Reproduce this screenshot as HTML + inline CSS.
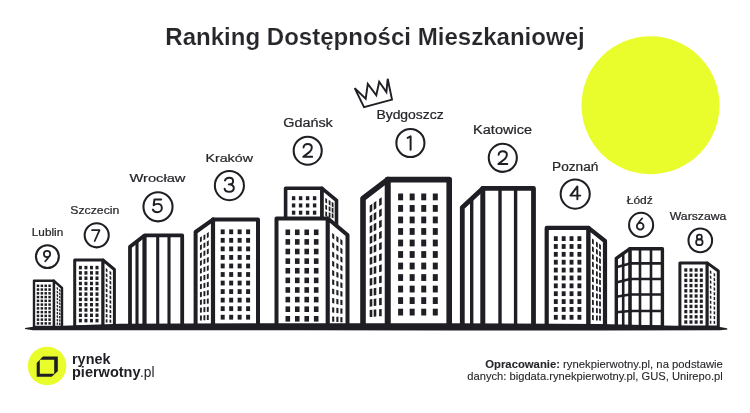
<!DOCTYPE html>
<html><head><meta charset="utf-8"><style>
html,body{margin:0;padding:0;background:#fff;width:750px;height:413px;overflow:hidden}
svg{display:block;will-change:transform;font-family:"Liberation Sans",sans-serif}
</style></head><body>
<svg width="750" height="413" viewBox="0 0 750 413">
<circle cx="650.5" cy="105.2" r="69" fill="#eafd2c"/>
<polygon points="34.00,280.80 54.00,280.80 54.00,327.00 34.00,327.00" fill="#fff" stroke="#1e1e24" stroke-width="2.4" stroke-linejoin="round"/>
<polygon points="54.00,280.80 62.00,288.00 62.00,327.00 54.00,327.00" fill="#fff" stroke="#1e1e24" stroke-width="2.4" stroke-linejoin="round"/>
<rect x="36.75" y="284.55" width="2.50" height="2.50" fill="#1e1e24"/>
<rect x="40.62" y="284.55" width="2.50" height="2.50" fill="#1e1e24"/>
<rect x="44.48" y="284.55" width="2.50" height="2.50" fill="#1e1e24"/>
<rect x="48.35" y="284.55" width="2.50" height="2.50" fill="#1e1e24"/>
<rect x="36.75" y="288.31" width="2.50" height="2.50" fill="#1e1e24"/>
<rect x="40.62" y="288.31" width="2.50" height="2.50" fill="#1e1e24"/>
<rect x="44.48" y="288.31" width="2.50" height="2.50" fill="#1e1e24"/>
<rect x="48.35" y="288.31" width="2.50" height="2.50" fill="#1e1e24"/>
<rect x="36.75" y="292.07" width="2.50" height="2.50" fill="#1e1e24"/>
<rect x="40.62" y="292.07" width="2.50" height="2.50" fill="#1e1e24"/>
<rect x="44.48" y="292.07" width="2.50" height="2.50" fill="#1e1e24"/>
<rect x="48.35" y="292.07" width="2.50" height="2.50" fill="#1e1e24"/>
<rect x="36.75" y="295.83" width="2.50" height="2.50" fill="#1e1e24"/>
<rect x="40.62" y="295.83" width="2.50" height="2.50" fill="#1e1e24"/>
<rect x="44.48" y="295.83" width="2.50" height="2.50" fill="#1e1e24"/>
<rect x="48.35" y="295.83" width="2.50" height="2.50" fill="#1e1e24"/>
<rect x="36.75" y="299.59" width="2.50" height="2.50" fill="#1e1e24"/>
<rect x="40.62" y="299.59" width="2.50" height="2.50" fill="#1e1e24"/>
<rect x="44.48" y="299.59" width="2.50" height="2.50" fill="#1e1e24"/>
<rect x="48.35" y="299.59" width="2.50" height="2.50" fill="#1e1e24"/>
<rect x="36.75" y="303.35" width="2.50" height="2.50" fill="#1e1e24"/>
<rect x="40.62" y="303.35" width="2.50" height="2.50" fill="#1e1e24"/>
<rect x="44.48" y="303.35" width="2.50" height="2.50" fill="#1e1e24"/>
<rect x="48.35" y="303.35" width="2.50" height="2.50" fill="#1e1e24"/>
<rect x="36.75" y="307.11" width="2.50" height="2.50" fill="#1e1e24"/>
<rect x="40.62" y="307.11" width="2.50" height="2.50" fill="#1e1e24"/>
<rect x="44.48" y="307.11" width="2.50" height="2.50" fill="#1e1e24"/>
<rect x="48.35" y="307.11" width="2.50" height="2.50" fill="#1e1e24"/>
<rect x="36.75" y="310.87" width="2.50" height="2.50" fill="#1e1e24"/>
<rect x="40.62" y="310.87" width="2.50" height="2.50" fill="#1e1e24"/>
<rect x="44.48" y="310.87" width="2.50" height="2.50" fill="#1e1e24"/>
<rect x="48.35" y="310.87" width="2.50" height="2.50" fill="#1e1e24"/>
<rect x="36.75" y="314.63" width="2.50" height="2.50" fill="#1e1e24"/>
<rect x="40.62" y="314.63" width="2.50" height="2.50" fill="#1e1e24"/>
<rect x="44.48" y="314.63" width="2.50" height="2.50" fill="#1e1e24"/>
<rect x="48.35" y="314.63" width="2.50" height="2.50" fill="#1e1e24"/>
<rect x="36.75" y="318.39" width="2.50" height="2.50" fill="#1e1e24"/>
<rect x="40.62" y="318.39" width="2.50" height="2.50" fill="#1e1e24"/>
<rect x="44.48" y="318.39" width="2.50" height="2.50" fill="#1e1e24"/>
<rect x="48.35" y="318.39" width="2.50" height="2.50" fill="#1e1e24"/>
<rect x="36.75" y="322.15" width="2.50" height="2.50" fill="#1e1e24"/>
<rect x="40.62" y="322.15" width="2.50" height="2.50" fill="#1e1e24"/>
<rect x="44.48" y="322.15" width="2.50" height="2.50" fill="#1e1e24"/>
<rect x="48.35" y="322.15" width="2.50" height="2.50" fill="#1e1e24"/>
<polygon points="56.70,286.82 58.10,287.94 58.10,290.24 56.70,289.12" fill="#1e1e24"/>
<polygon points="59.10,288.74 60.50,289.87 60.50,292.17 59.10,291.04" fill="#1e1e24"/>
<polygon points="56.70,290.38 58.10,291.40 58.10,293.70 56.70,292.68" fill="#1e1e24"/>
<polygon points="59.10,292.13 60.50,293.15 60.50,295.45 59.10,294.43" fill="#1e1e24"/>
<polygon points="56.70,293.94 58.10,294.86 58.10,297.16 56.70,296.24" fill="#1e1e24"/>
<polygon points="59.10,295.52 60.50,296.43 60.50,298.73 59.10,297.82" fill="#1e1e24"/>
<polygon points="56.70,297.50 58.10,298.32 58.10,300.62 56.70,299.80" fill="#1e1e24"/>
<polygon points="59.10,298.90 60.50,299.72 60.50,302.02 59.10,301.20" fill="#1e1e24"/>
<polygon points="56.70,301.07 58.10,301.78 58.10,304.08 56.70,303.37" fill="#1e1e24"/>
<polygon points="59.10,302.29 60.50,303.00 60.50,305.30 59.10,304.59" fill="#1e1e24"/>
<polygon points="56.70,304.63 58.10,305.24 58.10,307.54 56.70,306.93" fill="#1e1e24"/>
<polygon points="59.10,305.68 60.50,306.29 60.50,308.59 59.10,307.98" fill="#1e1e24"/>
<polygon points="56.70,308.19 58.10,308.70 58.10,311.00 56.70,310.49" fill="#1e1e24"/>
<polygon points="59.10,309.06 60.50,309.57 60.50,311.87 59.10,311.36" fill="#1e1e24"/>
<polygon points="56.70,311.75 58.10,312.16 58.10,314.46 56.70,314.05" fill="#1e1e24"/>
<polygon points="59.10,312.45 60.50,312.85 60.50,315.15 59.10,314.75" fill="#1e1e24"/>
<polygon points="56.70,315.31 58.10,315.62 58.10,317.92 56.70,317.61" fill="#1e1e24"/>
<polygon points="59.10,315.83 60.50,316.14 60.50,318.44 59.10,318.13" fill="#1e1e24"/>
<polygon points="56.70,318.88 58.10,319.08 58.10,321.38 56.70,321.18" fill="#1e1e24"/>
<polygon points="59.10,319.22 60.50,319.42 60.50,321.72 59.10,321.52" fill="#1e1e24"/>
<polygon points="56.70,322.44 58.10,322.54 58.10,324.84 56.70,324.74" fill="#1e1e24"/>
<polygon points="59.10,322.61 60.50,322.71 60.50,325.01 59.10,324.91" fill="#1e1e24"/>
<polygon points="74.70,260.00 103.00,260.00 103.00,327.00 74.70,327.00" fill="#fff" stroke="#1e1e24" stroke-width="3.0" stroke-linejoin="round"/>
<polygon points="103.00,260.00 114.40,269.50 114.40,327.00 103.00,327.00" fill="#fff" stroke="#1e1e24" stroke-width="3.0" stroke-linejoin="round"/>
<rect x="78.90" y="265.85" width="3.00" height="3.50" fill="#1e1e24"/>
<rect x="84.43" y="265.85" width="3.00" height="3.50" fill="#1e1e24"/>
<rect x="89.97" y="265.85" width="3.00" height="3.50" fill="#1e1e24"/>
<rect x="95.50" y="265.85" width="3.00" height="3.50" fill="#1e1e24"/>
<rect x="78.90" y="271.15" width="3.00" height="3.50" fill="#1e1e24"/>
<rect x="84.43" y="271.15" width="3.00" height="3.50" fill="#1e1e24"/>
<rect x="89.97" y="271.15" width="3.00" height="3.50" fill="#1e1e24"/>
<rect x="95.50" y="271.15" width="3.00" height="3.50" fill="#1e1e24"/>
<rect x="78.90" y="276.45" width="3.00" height="3.50" fill="#1e1e24"/>
<rect x="84.43" y="276.45" width="3.00" height="3.50" fill="#1e1e24"/>
<rect x="89.97" y="276.45" width="3.00" height="3.50" fill="#1e1e24"/>
<rect x="95.50" y="276.45" width="3.00" height="3.50" fill="#1e1e24"/>
<rect x="78.90" y="281.75" width="3.00" height="3.50" fill="#1e1e24"/>
<rect x="84.43" y="281.75" width="3.00" height="3.50" fill="#1e1e24"/>
<rect x="89.97" y="281.75" width="3.00" height="3.50" fill="#1e1e24"/>
<rect x="95.50" y="281.75" width="3.00" height="3.50" fill="#1e1e24"/>
<rect x="78.90" y="287.05" width="3.00" height="3.50" fill="#1e1e24"/>
<rect x="84.43" y="287.05" width="3.00" height="3.50" fill="#1e1e24"/>
<rect x="89.97" y="287.05" width="3.00" height="3.50" fill="#1e1e24"/>
<rect x="95.50" y="287.05" width="3.00" height="3.50" fill="#1e1e24"/>
<rect x="78.90" y="292.35" width="3.00" height="3.50" fill="#1e1e24"/>
<rect x="84.43" y="292.35" width="3.00" height="3.50" fill="#1e1e24"/>
<rect x="89.97" y="292.35" width="3.00" height="3.50" fill="#1e1e24"/>
<rect x="95.50" y="292.35" width="3.00" height="3.50" fill="#1e1e24"/>
<rect x="78.90" y="297.65" width="3.00" height="3.50" fill="#1e1e24"/>
<rect x="84.43" y="297.65" width="3.00" height="3.50" fill="#1e1e24"/>
<rect x="89.97" y="297.65" width="3.00" height="3.50" fill="#1e1e24"/>
<rect x="95.50" y="297.65" width="3.00" height="3.50" fill="#1e1e24"/>
<rect x="78.90" y="302.95" width="3.00" height="3.50" fill="#1e1e24"/>
<rect x="84.43" y="302.95" width="3.00" height="3.50" fill="#1e1e24"/>
<rect x="89.97" y="302.95" width="3.00" height="3.50" fill="#1e1e24"/>
<rect x="95.50" y="302.95" width="3.00" height="3.50" fill="#1e1e24"/>
<rect x="78.90" y="308.25" width="3.00" height="3.50" fill="#1e1e24"/>
<rect x="84.43" y="308.25" width="3.00" height="3.50" fill="#1e1e24"/>
<rect x="89.97" y="308.25" width="3.00" height="3.50" fill="#1e1e24"/>
<rect x="95.50" y="308.25" width="3.00" height="3.50" fill="#1e1e24"/>
<rect x="78.90" y="313.55" width="3.00" height="3.50" fill="#1e1e24"/>
<rect x="84.43" y="313.55" width="3.00" height="3.50" fill="#1e1e24"/>
<rect x="89.97" y="313.55" width="3.00" height="3.50" fill="#1e1e24"/>
<rect x="95.50" y="313.55" width="3.00" height="3.50" fill="#1e1e24"/>
<rect x="78.90" y="318.85" width="3.00" height="3.50" fill="#1e1e24"/>
<rect x="84.43" y="318.85" width="3.00" height="3.50" fill="#1e1e24"/>
<rect x="89.97" y="318.85" width="3.00" height="3.50" fill="#1e1e24"/>
<rect x="95.50" y="318.85" width="3.00" height="3.50" fill="#1e1e24"/>
<polygon points="105.75,268.03 107.45,269.29 107.45,272.49 105.75,271.23" fill="#1e1e24"/>
<polygon points="109.55,270.84 111.25,272.10 111.25,275.30 109.55,274.04" fill="#1e1e24"/>
<polygon points="105.75,273.15 107.45,274.29 107.45,277.49 105.75,276.35" fill="#1e1e24"/>
<polygon points="109.55,275.71 111.25,276.85 111.25,280.05 109.55,278.91" fill="#1e1e24"/>
<polygon points="105.75,278.27 107.45,279.30 107.45,282.50 105.75,281.47" fill="#1e1e24"/>
<polygon points="109.55,280.58 111.25,281.61 111.25,284.81 109.55,283.78" fill="#1e1e24"/>
<polygon points="105.75,283.39 107.45,284.31 107.45,287.51 105.75,286.59" fill="#1e1e24"/>
<polygon points="109.55,285.44 111.25,286.36 111.25,289.56 109.55,288.64" fill="#1e1e24"/>
<polygon points="105.75,288.51 107.45,289.31 107.45,292.51 105.75,291.71" fill="#1e1e24"/>
<polygon points="109.55,290.31 111.25,291.12 111.25,294.32 109.55,293.51" fill="#1e1e24"/>
<polygon points="105.75,293.63 107.45,294.32 107.45,297.52 105.75,296.83" fill="#1e1e24"/>
<polygon points="109.55,295.18 111.25,295.88 111.25,299.08 109.55,298.38" fill="#1e1e24"/>
<polygon points="105.75,298.74 107.45,299.33 107.45,302.53 105.75,301.94" fill="#1e1e24"/>
<polygon points="109.55,300.05 111.25,300.63 111.25,303.83 109.55,303.25" fill="#1e1e24"/>
<polygon points="105.75,303.86 107.45,304.33 107.45,307.53 105.75,307.06" fill="#1e1e24"/>
<polygon points="109.55,304.92 111.25,305.39 111.25,308.59 109.55,308.12" fill="#1e1e24"/>
<polygon points="105.75,308.98 107.45,309.34 107.45,312.54 105.75,312.18" fill="#1e1e24"/>
<polygon points="109.55,309.78 111.25,310.14 111.25,313.34 109.55,312.98" fill="#1e1e24"/>
<polygon points="105.75,314.10 107.45,314.35 107.45,317.55 105.75,317.30" fill="#1e1e24"/>
<polygon points="109.55,314.65 111.25,314.90 111.25,318.10 109.55,317.85" fill="#1e1e24"/>
<polygon points="105.75,319.22 107.45,319.35 107.45,322.55 105.75,322.42" fill="#1e1e24"/>
<polygon points="109.55,319.52 111.25,319.66 111.25,322.86 109.55,322.72" fill="#1e1e24"/>
<polygon points="130.00,246.80 144.50,235.40 182.20,235.40 182.20,327.00 130.00,327.00" fill="#fff" stroke="#1e1e24" stroke-width="3.8" stroke-linejoin="round"/>
<line x1="144.50" y1="236.00" x2="144.50" y2="327.00" stroke="#1e1e24" stroke-width="4.2" stroke-linecap="round"/>
<line x1="137.00" y1="241.50" x2="137.00" y2="327.00" stroke="#1e1e24" stroke-width="3.1" stroke-linecap="round"/>
<line x1="157.70" y1="236.00" x2="157.70" y2="327.00" stroke="#1e1e24" stroke-width="3.1" stroke-linecap="round"/>
<line x1="169.00" y1="236.00" x2="169.00" y2="327.00" stroke="#1e1e24" stroke-width="3.1" stroke-linecap="round"/>
<polygon points="195.60,232.00 213.00,219.60 213.00,327.00 195.60,327.00" fill="#fff" stroke="#1e1e24" stroke-width="4.0" stroke-linejoin="round"/>
<polygon points="213.00,219.60 258.00,219.60 258.00,327.00 213.00,327.00" fill="#fff" stroke="#1e1e24" stroke-width="4.0" stroke-linejoin="round"/>
<line x1="213.00" y1="219.60" x2="213.00" y2="327.00" stroke="#1e1e24" stroke-width="4.2" stroke-linecap="round"/>
<rect x="220.70" y="229.40" width="4.00" height="4.80" fill="#1e1e24"/>
<rect x="229.17" y="229.40" width="4.00" height="4.80" fill="#1e1e24"/>
<rect x="237.63" y="229.40" width="4.00" height="4.80" fill="#1e1e24"/>
<rect x="246.10" y="229.40" width="4.00" height="4.80" fill="#1e1e24"/>
<rect x="220.70" y="237.94" width="4.00" height="4.80" fill="#1e1e24"/>
<rect x="229.17" y="237.94" width="4.00" height="4.80" fill="#1e1e24"/>
<rect x="237.63" y="237.94" width="4.00" height="4.80" fill="#1e1e24"/>
<rect x="246.10" y="237.94" width="4.00" height="4.80" fill="#1e1e24"/>
<rect x="220.70" y="246.48" width="4.00" height="4.80" fill="#1e1e24"/>
<rect x="229.17" y="246.48" width="4.00" height="4.80" fill="#1e1e24"/>
<rect x="237.63" y="246.48" width="4.00" height="4.80" fill="#1e1e24"/>
<rect x="246.10" y="246.48" width="4.00" height="4.80" fill="#1e1e24"/>
<rect x="220.70" y="255.02" width="4.00" height="4.80" fill="#1e1e24"/>
<rect x="229.17" y="255.02" width="4.00" height="4.80" fill="#1e1e24"/>
<rect x="237.63" y="255.02" width="4.00" height="4.80" fill="#1e1e24"/>
<rect x="246.10" y="255.02" width="4.00" height="4.80" fill="#1e1e24"/>
<rect x="220.70" y="263.56" width="4.00" height="4.80" fill="#1e1e24"/>
<rect x="229.17" y="263.56" width="4.00" height="4.80" fill="#1e1e24"/>
<rect x="237.63" y="263.56" width="4.00" height="4.80" fill="#1e1e24"/>
<rect x="246.10" y="263.56" width="4.00" height="4.80" fill="#1e1e24"/>
<rect x="220.70" y="272.10" width="4.00" height="4.80" fill="#1e1e24"/>
<rect x="229.17" y="272.10" width="4.00" height="4.80" fill="#1e1e24"/>
<rect x="237.63" y="272.10" width="4.00" height="4.80" fill="#1e1e24"/>
<rect x="246.10" y="272.10" width="4.00" height="4.80" fill="#1e1e24"/>
<rect x="220.70" y="280.64" width="4.00" height="4.80" fill="#1e1e24"/>
<rect x="229.17" y="280.64" width="4.00" height="4.80" fill="#1e1e24"/>
<rect x="237.63" y="280.64" width="4.00" height="4.80" fill="#1e1e24"/>
<rect x="246.10" y="280.64" width="4.00" height="4.80" fill="#1e1e24"/>
<rect x="220.70" y="289.18" width="4.00" height="4.80" fill="#1e1e24"/>
<rect x="229.17" y="289.18" width="4.00" height="4.80" fill="#1e1e24"/>
<rect x="237.63" y="289.18" width="4.00" height="4.80" fill="#1e1e24"/>
<rect x="246.10" y="289.18" width="4.00" height="4.80" fill="#1e1e24"/>
<rect x="220.70" y="297.72" width="4.00" height="4.80" fill="#1e1e24"/>
<rect x="229.17" y="297.72" width="4.00" height="4.80" fill="#1e1e24"/>
<rect x="237.63" y="297.72" width="4.00" height="4.80" fill="#1e1e24"/>
<rect x="246.10" y="297.72" width="4.00" height="4.80" fill="#1e1e24"/>
<rect x="220.70" y="306.26" width="4.00" height="4.80" fill="#1e1e24"/>
<rect x="229.17" y="306.26" width="4.00" height="4.80" fill="#1e1e24"/>
<rect x="237.63" y="306.26" width="4.00" height="4.80" fill="#1e1e24"/>
<rect x="246.10" y="306.26" width="4.00" height="4.80" fill="#1e1e24"/>
<rect x="220.70" y="314.80" width="4.00" height="4.80" fill="#1e1e24"/>
<rect x="229.17" y="314.80" width="4.00" height="4.80" fill="#1e1e24"/>
<rect x="237.63" y="314.80" width="4.00" height="4.80" fill="#1e1e24"/>
<rect x="246.10" y="314.80" width="4.00" height="4.80" fill="#1e1e24"/>
<polygon points="199.95,237.54 201.85,236.34 201.85,241.34 199.95,242.54" fill="#1e1e24"/>
<polygon points="203.45,235.33 205.35,234.13 205.35,239.13 203.45,240.33" fill="#1e1e24"/>
<polygon points="206.85,233.18 208.75,231.98 208.75,236.98 206.85,238.18" fill="#1e1e24"/>
<polygon points="199.95,245.34 201.85,244.25 201.85,249.25 199.95,250.34" fill="#1e1e24"/>
<polygon points="203.45,243.33 205.35,242.24 205.35,247.24 203.45,248.33" fill="#1e1e24"/>
<polygon points="206.85,241.38 208.75,240.28 208.75,245.28 206.85,246.38" fill="#1e1e24"/>
<polygon points="199.95,253.14 201.85,252.16 201.85,257.16 199.95,258.14" fill="#1e1e24"/>
<polygon points="203.45,251.33 205.35,250.35 205.35,255.35 203.45,256.33" fill="#1e1e24"/>
<polygon points="206.85,249.57 208.75,248.58 208.75,253.58 206.85,254.57" fill="#1e1e24"/>
<polygon points="199.95,260.95 201.85,260.07 201.85,265.07 199.95,265.95" fill="#1e1e24"/>
<polygon points="203.45,259.33 205.35,258.45 205.35,263.45 203.45,264.33" fill="#1e1e24"/>
<polygon points="206.85,257.76 208.75,256.88 208.75,261.88 206.85,262.76" fill="#1e1e24"/>
<polygon points="199.95,268.75 201.85,267.98 201.85,272.98 199.95,273.75" fill="#1e1e24"/>
<polygon points="203.45,267.33 205.35,266.56 205.35,271.56 203.45,272.33" fill="#1e1e24"/>
<polygon points="206.85,265.95 208.75,265.18 208.75,270.18 206.85,270.95" fill="#1e1e24"/>
<polygon points="199.95,276.55 201.85,275.88 201.85,280.88 199.95,281.55" fill="#1e1e24"/>
<polygon points="203.45,275.33 205.35,274.66 205.35,279.66 203.45,280.33" fill="#1e1e24"/>
<polygon points="206.85,274.14 208.75,273.48 208.75,278.48 206.85,279.14" fill="#1e1e24"/>
<polygon points="199.95,284.35 201.85,283.79 201.85,288.79 199.95,289.35" fill="#1e1e24"/>
<polygon points="203.45,283.33 205.35,282.77 205.35,287.77 203.45,288.33" fill="#1e1e24"/>
<polygon points="206.85,282.33 208.75,281.78 208.75,286.78 206.85,287.33" fill="#1e1e24"/>
<polygon points="199.95,292.15 201.85,291.70 201.85,296.70 199.95,297.15" fill="#1e1e24"/>
<polygon points="203.45,291.32 205.35,290.88 205.35,295.88 203.45,296.32" fill="#1e1e24"/>
<polygon points="206.85,290.53 208.75,290.08 208.75,295.08 206.85,295.53" fill="#1e1e24"/>
<polygon points="199.95,299.95 201.85,299.61 201.85,304.61 199.95,304.95" fill="#1e1e24"/>
<polygon points="203.45,299.32 205.35,298.98 205.35,303.98 203.45,304.32" fill="#1e1e24"/>
<polygon points="206.85,298.72 208.75,298.38 208.75,303.38 206.85,303.72" fill="#1e1e24"/>
<polygon points="199.95,307.75 201.85,307.52 201.85,312.52 199.95,312.75" fill="#1e1e24"/>
<polygon points="203.45,307.32 205.35,307.09 205.35,312.09 203.45,312.32" fill="#1e1e24"/>
<polygon points="206.85,306.91 208.75,306.68 208.75,311.68 206.85,311.91" fill="#1e1e24"/>
<polygon points="199.95,315.55 201.85,315.43 201.85,320.43 199.95,320.55" fill="#1e1e24"/>
<polygon points="203.45,315.32 205.35,315.20 205.35,320.20 203.45,320.32" fill="#1e1e24"/>
<polygon points="206.85,315.10 208.75,314.98 208.75,319.98 206.85,320.10" fill="#1e1e24"/>
<polygon points="285.60,188.30 322.00,188.30 322.00,226.00 285.60,226.00" fill="#fff" stroke="#1e1e24" stroke-width="3.6" stroke-linejoin="round"/>
<polygon points="322.00,188.30 336.50,200.30 336.50,226.00 322.00,226.00" fill="#fff" stroke="#1e1e24" stroke-width="3.6" stroke-linejoin="round"/>
<rect x="291.90" y="196.20" width="3.40" height="4.00" fill="#1e1e24"/>
<rect x="298.90" y="196.20" width="3.40" height="4.00" fill="#1e1e24"/>
<rect x="305.90" y="196.20" width="3.40" height="4.00" fill="#1e1e24"/>
<rect x="312.90" y="196.20" width="3.40" height="4.00" fill="#1e1e24"/>
<rect x="291.90" y="203.45" width="3.40" height="4.00" fill="#1e1e24"/>
<rect x="298.90" y="203.45" width="3.40" height="4.00" fill="#1e1e24"/>
<rect x="305.90" y="203.45" width="3.40" height="4.00" fill="#1e1e24"/>
<rect x="312.90" y="203.45" width="3.40" height="4.00" fill="#1e1e24"/>
<rect x="291.90" y="210.70" width="3.40" height="4.00" fill="#1e1e24"/>
<rect x="298.90" y="210.70" width="3.40" height="4.00" fill="#1e1e24"/>
<rect x="305.90" y="210.70" width="3.40" height="4.00" fill="#1e1e24"/>
<rect x="312.90" y="210.70" width="3.40" height="4.00" fill="#1e1e24"/>
<polygon points="325.30,197.91 327.10,199.01 327.10,203.61 325.30,202.51" fill="#1e1e24"/>
<polygon points="328.70,199.99 330.50,201.09 330.50,205.69 328.70,204.59" fill="#1e1e24"/>
<polygon points="331.70,201.82 333.50,202.92 333.50,207.52 331.70,206.42" fill="#1e1e24"/>
<polygon points="325.30,204.64 327.10,205.45 327.10,210.05 325.30,209.24" fill="#1e1e24"/>
<polygon points="328.70,206.17 330.50,206.98 330.50,211.58 328.70,210.77" fill="#1e1e24"/>
<polygon points="331.70,207.53 333.50,208.34 333.50,212.94 331.70,212.13" fill="#1e1e24"/>
<polygon points="325.30,211.36 327.10,211.89 327.10,216.49 325.30,215.96" fill="#1e1e24"/>
<polygon points="328.70,212.36 330.50,212.88 330.50,217.48 328.70,216.96" fill="#1e1e24"/>
<polygon points="331.70,213.23 333.50,213.76 333.50,218.36 331.70,217.83" fill="#1e1e24"/>
<polygon points="276.50,218.50 327.80,218.50 327.80,327.00 276.50,327.00" fill="#fff" stroke="#1e1e24" stroke-width="4.0" stroke-linejoin="round"/>
<polygon points="327.80,218.50 347.50,235.00 347.50,327.00 327.80,327.00" fill="#fff" stroke="#1e1e24" stroke-width="4.0" stroke-linejoin="round"/>
<rect x="285.50" y="229.50" width="4.60" height="5.60" fill="#1e1e24"/>
<rect x="294.97" y="229.50" width="4.60" height="5.60" fill="#1e1e24"/>
<rect x="304.43" y="229.50" width="4.60" height="5.60" fill="#1e1e24"/>
<rect x="313.90" y="229.50" width="4.60" height="5.60" fill="#1e1e24"/>
<rect x="285.50" y="239.11" width="4.60" height="5.60" fill="#1e1e24"/>
<rect x="294.97" y="239.11" width="4.60" height="5.60" fill="#1e1e24"/>
<rect x="304.43" y="239.11" width="4.60" height="5.60" fill="#1e1e24"/>
<rect x="313.90" y="239.11" width="4.60" height="5.60" fill="#1e1e24"/>
<rect x="285.50" y="248.72" width="4.60" height="5.60" fill="#1e1e24"/>
<rect x="294.97" y="248.72" width="4.60" height="5.60" fill="#1e1e24"/>
<rect x="304.43" y="248.72" width="4.60" height="5.60" fill="#1e1e24"/>
<rect x="313.90" y="248.72" width="4.60" height="5.60" fill="#1e1e24"/>
<rect x="285.50" y="258.33" width="4.60" height="5.60" fill="#1e1e24"/>
<rect x="294.97" y="258.33" width="4.60" height="5.60" fill="#1e1e24"/>
<rect x="304.43" y="258.33" width="4.60" height="5.60" fill="#1e1e24"/>
<rect x="313.90" y="258.33" width="4.60" height="5.60" fill="#1e1e24"/>
<rect x="285.50" y="267.94" width="4.60" height="5.60" fill="#1e1e24"/>
<rect x="294.97" y="267.94" width="4.60" height="5.60" fill="#1e1e24"/>
<rect x="304.43" y="267.94" width="4.60" height="5.60" fill="#1e1e24"/>
<rect x="313.90" y="267.94" width="4.60" height="5.60" fill="#1e1e24"/>
<rect x="285.50" y="277.56" width="4.60" height="5.60" fill="#1e1e24"/>
<rect x="294.97" y="277.56" width="4.60" height="5.60" fill="#1e1e24"/>
<rect x="304.43" y="277.56" width="4.60" height="5.60" fill="#1e1e24"/>
<rect x="313.90" y="277.56" width="4.60" height="5.60" fill="#1e1e24"/>
<rect x="285.50" y="287.17" width="4.60" height="5.60" fill="#1e1e24"/>
<rect x="294.97" y="287.17" width="4.60" height="5.60" fill="#1e1e24"/>
<rect x="304.43" y="287.17" width="4.60" height="5.60" fill="#1e1e24"/>
<rect x="313.90" y="287.17" width="4.60" height="5.60" fill="#1e1e24"/>
<rect x="285.50" y="296.78" width="4.60" height="5.60" fill="#1e1e24"/>
<rect x="294.97" y="296.78" width="4.60" height="5.60" fill="#1e1e24"/>
<rect x="304.43" y="296.78" width="4.60" height="5.60" fill="#1e1e24"/>
<rect x="313.90" y="296.78" width="4.60" height="5.60" fill="#1e1e24"/>
<rect x="285.50" y="306.39" width="4.60" height="5.60" fill="#1e1e24"/>
<rect x="294.97" y="306.39" width="4.60" height="5.60" fill="#1e1e24"/>
<rect x="304.43" y="306.39" width="4.60" height="5.60" fill="#1e1e24"/>
<rect x="313.90" y="306.39" width="4.60" height="5.60" fill="#1e1e24"/>
<rect x="285.50" y="316.00" width="4.60" height="5.60" fill="#1e1e24"/>
<rect x="294.97" y="316.00" width="4.60" height="5.60" fill="#1e1e24"/>
<rect x="304.43" y="316.00" width="4.60" height="5.60" fill="#1e1e24"/>
<rect x="313.90" y="316.00" width="4.60" height="5.60" fill="#1e1e24"/>
<polygon points="332.15,232.88 334.25,234.42 334.25,239.62 332.15,238.08" fill="#1e1e24"/>
<polygon points="336.35,235.95 338.45,237.49 338.45,242.69 336.35,241.15" fill="#1e1e24"/>
<polygon points="340.35,238.87 342.45,240.41 342.45,245.61 340.35,244.07" fill="#1e1e24"/>
<polygon points="332.15,242.17 334.25,243.55 334.25,248.75 332.15,247.37" fill="#1e1e24"/>
<polygon points="336.35,244.93 338.45,246.31 338.45,251.51 336.35,250.13" fill="#1e1e24"/>
<polygon points="340.35,247.55 342.45,248.93 342.45,254.13 340.35,252.75" fill="#1e1e24"/>
<polygon points="332.15,251.46 334.25,252.68 334.25,257.88 332.15,256.66" fill="#1e1e24"/>
<polygon points="336.35,253.90 338.45,255.13 338.45,260.33 336.35,259.10" fill="#1e1e24"/>
<polygon points="340.35,256.23 342.45,257.46 342.45,262.66 340.35,261.43" fill="#1e1e24"/>
<polygon points="332.15,260.75 334.25,261.81 334.25,267.01 332.15,265.95" fill="#1e1e24"/>
<polygon points="336.35,262.88 338.45,263.95 338.45,269.15 336.35,268.08" fill="#1e1e24"/>
<polygon points="340.35,264.91 342.45,265.98 342.45,271.18 340.35,270.11" fill="#1e1e24"/>
<polygon points="332.15,270.03 334.25,270.95 334.25,276.15 332.15,275.23" fill="#1e1e24"/>
<polygon points="336.35,271.86 338.45,272.77 338.45,277.97 336.35,277.06" fill="#1e1e24"/>
<polygon points="340.35,273.59 342.45,274.51 342.45,279.71 340.35,278.79" fill="#1e1e24"/>
<polygon points="332.15,279.32 334.25,280.08 334.25,285.28 332.15,284.52" fill="#1e1e24"/>
<polygon points="336.35,280.83 338.45,281.59 338.45,286.79 336.35,286.03" fill="#1e1e24"/>
<polygon points="340.35,282.27 342.45,283.03 342.45,288.23 340.35,287.47" fill="#1e1e24"/>
<polygon points="332.15,288.61 334.25,289.21 334.25,294.41 332.15,293.81" fill="#1e1e24"/>
<polygon points="336.35,289.81 338.45,290.41 338.45,295.61 336.35,295.01" fill="#1e1e24"/>
<polygon points="340.35,290.95 342.45,291.55 342.45,296.75 340.35,296.15" fill="#1e1e24"/>
<polygon points="332.15,297.90 334.25,298.34 334.25,303.54 332.15,303.10" fill="#1e1e24"/>
<polygon points="336.35,298.79 338.45,299.23 338.45,304.43 336.35,303.99" fill="#1e1e24"/>
<polygon points="340.35,299.63 342.45,300.08 342.45,305.28 340.35,304.83" fill="#1e1e24"/>
<polygon points="332.15,307.19 334.25,307.48 334.25,312.68 332.15,312.39" fill="#1e1e24"/>
<polygon points="336.35,307.76 338.45,308.05 338.45,313.25 336.35,312.96" fill="#1e1e24"/>
<polygon points="340.35,308.31 342.45,308.60 342.45,313.80 340.35,313.51" fill="#1e1e24"/>
<polygon points="332.15,316.48 334.25,316.61 334.25,321.81 332.15,321.68" fill="#1e1e24"/>
<polygon points="336.35,316.74 338.45,316.87 338.45,322.07 336.35,321.94" fill="#1e1e24"/>
<polygon points="340.35,316.99 342.45,317.13 342.45,322.33 340.35,322.19" fill="#1e1e24"/>
<polygon points="363.00,198.50 387.70,179.60 387.70,327.00 363.00,327.00" fill="#fff" stroke="#1e1e24" stroke-width="5.6" stroke-linejoin="round"/>
<polygon points="387.70,179.60 449.20,179.60 449.20,327.00 387.70,327.00" fill="#fff" stroke="#1e1e24" stroke-width="5.6" stroke-linejoin="round"/>
<line x1="387.70" y1="179.60" x2="387.70" y2="327.00" stroke="#1e1e24" stroke-width="5.6" stroke-linecap="round"/>
<rect x="398.10" y="193.50" width="5.00" height="6.80" fill="#1e1e24"/>
<rect x="409.67" y="193.50" width="5.00" height="6.80" fill="#1e1e24"/>
<rect x="421.23" y="193.50" width="5.00" height="6.80" fill="#1e1e24"/>
<rect x="432.80" y="193.50" width="5.00" height="6.80" fill="#1e1e24"/>
<rect x="398.10" y="205.02" width="5.00" height="6.80" fill="#1e1e24"/>
<rect x="409.67" y="205.02" width="5.00" height="6.80" fill="#1e1e24"/>
<rect x="421.23" y="205.02" width="5.00" height="6.80" fill="#1e1e24"/>
<rect x="432.80" y="205.02" width="5.00" height="6.80" fill="#1e1e24"/>
<rect x="398.10" y="216.54" width="5.00" height="6.80" fill="#1e1e24"/>
<rect x="409.67" y="216.54" width="5.00" height="6.80" fill="#1e1e24"/>
<rect x="421.23" y="216.54" width="5.00" height="6.80" fill="#1e1e24"/>
<rect x="432.80" y="216.54" width="5.00" height="6.80" fill="#1e1e24"/>
<rect x="398.10" y="228.06" width="5.00" height="6.80" fill="#1e1e24"/>
<rect x="409.67" y="228.06" width="5.00" height="6.80" fill="#1e1e24"/>
<rect x="421.23" y="228.06" width="5.00" height="6.80" fill="#1e1e24"/>
<rect x="432.80" y="228.06" width="5.00" height="6.80" fill="#1e1e24"/>
<rect x="398.10" y="239.58" width="5.00" height="6.80" fill="#1e1e24"/>
<rect x="409.67" y="239.58" width="5.00" height="6.80" fill="#1e1e24"/>
<rect x="421.23" y="239.58" width="5.00" height="6.80" fill="#1e1e24"/>
<rect x="432.80" y="239.58" width="5.00" height="6.80" fill="#1e1e24"/>
<rect x="398.10" y="251.10" width="5.00" height="6.80" fill="#1e1e24"/>
<rect x="409.67" y="251.10" width="5.00" height="6.80" fill="#1e1e24"/>
<rect x="421.23" y="251.10" width="5.00" height="6.80" fill="#1e1e24"/>
<rect x="432.80" y="251.10" width="5.00" height="6.80" fill="#1e1e24"/>
<rect x="398.10" y="262.62" width="5.00" height="6.80" fill="#1e1e24"/>
<rect x="409.67" y="262.62" width="5.00" height="6.80" fill="#1e1e24"/>
<rect x="421.23" y="262.62" width="5.00" height="6.80" fill="#1e1e24"/>
<rect x="432.80" y="262.62" width="5.00" height="6.80" fill="#1e1e24"/>
<rect x="398.10" y="274.14" width="5.00" height="6.80" fill="#1e1e24"/>
<rect x="409.67" y="274.14" width="5.00" height="6.80" fill="#1e1e24"/>
<rect x="421.23" y="274.14" width="5.00" height="6.80" fill="#1e1e24"/>
<rect x="432.80" y="274.14" width="5.00" height="6.80" fill="#1e1e24"/>
<rect x="398.10" y="285.66" width="5.00" height="6.80" fill="#1e1e24"/>
<rect x="409.67" y="285.66" width="5.00" height="6.80" fill="#1e1e24"/>
<rect x="421.23" y="285.66" width="5.00" height="6.80" fill="#1e1e24"/>
<rect x="432.80" y="285.66" width="5.00" height="6.80" fill="#1e1e24"/>
<rect x="398.10" y="297.18" width="5.00" height="6.80" fill="#1e1e24"/>
<rect x="409.67" y="297.18" width="5.00" height="6.80" fill="#1e1e24"/>
<rect x="421.23" y="297.18" width="5.00" height="6.80" fill="#1e1e24"/>
<rect x="432.80" y="297.18" width="5.00" height="6.80" fill="#1e1e24"/>
<rect x="398.10" y="308.70" width="5.00" height="6.80" fill="#1e1e24"/>
<rect x="409.67" y="308.70" width="5.00" height="6.80" fill="#1e1e24"/>
<rect x="421.23" y="308.70" width="5.00" height="6.80" fill="#1e1e24"/>
<rect x="432.80" y="308.70" width="5.00" height="6.80" fill="#1e1e24"/>
<polygon points="369.70,205.46 372.30,203.70 372.30,210.90 369.70,212.66" fill="#1e1e24"/>
<polygon points="373.70,202.76 376.30,201.00 376.30,208.20 373.70,209.96" fill="#1e1e24"/>
<polygon points="379.10,199.11 381.70,197.35 381.70,204.55 379.10,206.31" fill="#1e1e24"/>
<polygon points="369.70,215.90 372.30,214.30 372.30,221.50 369.70,223.10" fill="#1e1e24"/>
<polygon points="373.70,213.44 376.30,211.84 376.30,219.04 373.70,220.64" fill="#1e1e24"/>
<polygon points="379.10,210.11 381.70,208.51 381.70,215.71 379.10,217.31" fill="#1e1e24"/>
<polygon points="369.70,226.34 372.30,224.90 372.30,232.10 369.70,233.54" fill="#1e1e24"/>
<polygon points="373.70,224.12 376.30,222.68 376.30,229.88 373.70,231.32" fill="#1e1e24"/>
<polygon points="379.10,221.12 381.70,219.67 381.70,226.87 379.10,228.32" fill="#1e1e24"/>
<polygon points="369.70,236.79 372.30,235.50 372.30,242.70 369.70,243.99" fill="#1e1e24"/>
<polygon points="373.70,234.80 376.30,233.51 376.30,240.71 373.70,242.00" fill="#1e1e24"/>
<polygon points="379.10,232.13 381.70,230.84 381.70,238.04 379.10,239.33" fill="#1e1e24"/>
<polygon points="369.70,247.23 372.30,246.10 372.30,253.30 369.70,254.43" fill="#1e1e24"/>
<polygon points="373.70,245.49 376.30,244.35 376.30,251.55 373.70,252.69" fill="#1e1e24"/>
<polygon points="379.10,243.13 381.70,242.00 381.70,249.20 379.10,250.33" fill="#1e1e24"/>
<polygon points="369.70,257.67 372.30,256.70 372.30,263.90 369.70,264.87" fill="#1e1e24"/>
<polygon points="373.70,256.17 376.30,255.19 376.30,262.39 373.70,263.37" fill="#1e1e24"/>
<polygon points="379.10,254.14 381.70,253.16 381.70,260.36 379.10,261.34" fill="#1e1e24"/>
<polygon points="369.70,268.12 372.30,267.30 372.30,274.50 369.70,275.32" fill="#1e1e24"/>
<polygon points="373.70,266.85 376.30,266.03 376.30,273.23 373.70,274.05" fill="#1e1e24"/>
<polygon points="379.10,265.14 381.70,264.32 381.70,271.52 379.10,272.34" fill="#1e1e24"/>
<polygon points="369.70,278.56 372.30,277.89 372.30,285.09 369.70,285.76" fill="#1e1e24"/>
<polygon points="373.70,277.53 376.30,276.87 376.30,284.07 373.70,284.73" fill="#1e1e24"/>
<polygon points="379.10,276.15 381.70,275.48 381.70,282.68 379.10,283.35" fill="#1e1e24"/>
<polygon points="369.70,289.01 372.30,288.49 372.30,295.69 369.70,296.21" fill="#1e1e24"/>
<polygon points="373.70,288.22 376.30,287.71 376.30,294.91 373.70,295.42" fill="#1e1e24"/>
<polygon points="379.10,287.15 381.70,286.64 381.70,293.84 379.10,294.35" fill="#1e1e24"/>
<polygon points="369.70,299.45 372.30,299.09 372.30,306.29 369.70,306.65" fill="#1e1e24"/>
<polygon points="373.70,298.90 376.30,298.54 376.30,305.74 373.70,306.10" fill="#1e1e24"/>
<polygon points="379.10,298.16 381.70,297.80 381.70,305.00 379.10,305.36" fill="#1e1e24"/>
<polygon points="369.70,309.89 372.30,309.69 372.30,316.89 369.70,317.09" fill="#1e1e24"/>
<polygon points="373.70,309.58 376.30,309.38 376.30,316.58 373.70,316.78" fill="#1e1e24"/>
<polygon points="379.10,309.17 381.70,308.96 381.70,316.16 379.10,316.37" fill="#1e1e24"/>
<polygon points="462.30,207.50 482.80,188.40 533.50,188.40 533.50,327.00 462.30,327.00" fill="#fff" stroke="#1e1e24" stroke-width="4.8" stroke-linejoin="round"/>
<line x1="482.80" y1="188.40" x2="482.80" y2="327.00" stroke="#1e1e24" stroke-width="5.0" stroke-linecap="round"/>
<line x1="471.70" y1="200.00" x2="471.70" y2="327.00" stroke="#1e1e24" stroke-width="3.4" stroke-linecap="round"/>
<line x1="500.00" y1="188.40" x2="500.00" y2="327.00" stroke="#1e1e24" stroke-width="3.4" stroke-linecap="round"/>
<line x1="515.60" y1="188.40" x2="515.60" y2="327.00" stroke="#1e1e24" stroke-width="3.4" stroke-linecap="round"/>
<polygon points="546.70,227.90 588.50,227.90 588.50,327.00 546.70,327.00" fill="#fff" stroke="#1e1e24" stroke-width="4.2" stroke-linejoin="round"/>
<polygon points="588.50,227.90 605.00,241.00 605.00,327.00 588.50,327.00" fill="#fff" stroke="#1e1e24" stroke-width="4.2" stroke-linejoin="round"/>
<rect x="553.85" y="236.20" width="3.90" height="4.80" fill="#1e1e24"/>
<rect x="561.72" y="236.20" width="3.90" height="4.80" fill="#1e1e24"/>
<rect x="569.58" y="236.20" width="3.90" height="4.80" fill="#1e1e24"/>
<rect x="577.45" y="236.20" width="3.90" height="4.80" fill="#1e1e24"/>
<rect x="553.85" y="244.07" width="3.90" height="4.80" fill="#1e1e24"/>
<rect x="561.72" y="244.07" width="3.90" height="4.80" fill="#1e1e24"/>
<rect x="569.58" y="244.07" width="3.90" height="4.80" fill="#1e1e24"/>
<rect x="577.45" y="244.07" width="3.90" height="4.80" fill="#1e1e24"/>
<rect x="553.85" y="251.94" width="3.90" height="4.80" fill="#1e1e24"/>
<rect x="561.72" y="251.94" width="3.90" height="4.80" fill="#1e1e24"/>
<rect x="569.58" y="251.94" width="3.90" height="4.80" fill="#1e1e24"/>
<rect x="577.45" y="251.94" width="3.90" height="4.80" fill="#1e1e24"/>
<rect x="553.85" y="259.81" width="3.90" height="4.80" fill="#1e1e24"/>
<rect x="561.72" y="259.81" width="3.90" height="4.80" fill="#1e1e24"/>
<rect x="569.58" y="259.81" width="3.90" height="4.80" fill="#1e1e24"/>
<rect x="577.45" y="259.81" width="3.90" height="4.80" fill="#1e1e24"/>
<rect x="553.85" y="267.68" width="3.90" height="4.80" fill="#1e1e24"/>
<rect x="561.72" y="267.68" width="3.90" height="4.80" fill="#1e1e24"/>
<rect x="569.58" y="267.68" width="3.90" height="4.80" fill="#1e1e24"/>
<rect x="577.45" y="267.68" width="3.90" height="4.80" fill="#1e1e24"/>
<rect x="553.85" y="275.55" width="3.90" height="4.80" fill="#1e1e24"/>
<rect x="561.72" y="275.55" width="3.90" height="4.80" fill="#1e1e24"/>
<rect x="569.58" y="275.55" width="3.90" height="4.80" fill="#1e1e24"/>
<rect x="577.45" y="275.55" width="3.90" height="4.80" fill="#1e1e24"/>
<rect x="553.85" y="283.42" width="3.90" height="4.80" fill="#1e1e24"/>
<rect x="561.72" y="283.42" width="3.90" height="4.80" fill="#1e1e24"/>
<rect x="569.58" y="283.42" width="3.90" height="4.80" fill="#1e1e24"/>
<rect x="577.45" y="283.42" width="3.90" height="4.80" fill="#1e1e24"/>
<rect x="553.85" y="291.29" width="3.90" height="4.80" fill="#1e1e24"/>
<rect x="561.72" y="291.29" width="3.90" height="4.80" fill="#1e1e24"/>
<rect x="569.58" y="291.29" width="3.90" height="4.80" fill="#1e1e24"/>
<rect x="577.45" y="291.29" width="3.90" height="4.80" fill="#1e1e24"/>
<rect x="553.85" y="299.16" width="3.90" height="4.80" fill="#1e1e24"/>
<rect x="561.72" y="299.16" width="3.90" height="4.80" fill="#1e1e24"/>
<rect x="569.58" y="299.16" width="3.90" height="4.80" fill="#1e1e24"/>
<rect x="577.45" y="299.16" width="3.90" height="4.80" fill="#1e1e24"/>
<rect x="553.85" y="307.03" width="3.90" height="4.80" fill="#1e1e24"/>
<rect x="561.72" y="307.03" width="3.90" height="4.80" fill="#1e1e24"/>
<rect x="569.58" y="307.03" width="3.90" height="4.80" fill="#1e1e24"/>
<rect x="577.45" y="307.03" width="3.90" height="4.80" fill="#1e1e24"/>
<rect x="553.85" y="314.90" width="3.90" height="4.80" fill="#1e1e24"/>
<rect x="561.72" y="314.90" width="3.90" height="4.80" fill="#1e1e24"/>
<rect x="569.58" y="314.90" width="3.90" height="4.80" fill="#1e1e24"/>
<rect x="577.45" y="314.90" width="3.90" height="4.80" fill="#1e1e24"/>
<polygon points="592.00,238.58 593.80,239.85 593.80,244.85 592.00,243.58" fill="#1e1e24"/>
<polygon points="596.00,241.41 597.80,242.69 597.80,247.69 596.00,246.41" fill="#1e1e24"/>
<polygon points="599.10,243.61 600.90,244.88 600.90,249.88 599.10,248.61" fill="#1e1e24"/>
<polygon points="592.00,246.23 593.80,247.39 593.80,252.39 592.00,251.23" fill="#1e1e24"/>
<polygon points="596.00,248.81 597.80,249.97 597.80,254.97 596.00,253.81" fill="#1e1e24"/>
<polygon points="599.10,250.81 600.90,251.97 600.90,256.97 599.10,255.81" fill="#1e1e24"/>
<polygon points="592.00,253.88 593.80,254.93 593.80,259.93 592.00,258.88" fill="#1e1e24"/>
<polygon points="596.00,256.21 597.80,257.25 597.80,262.25 596.00,261.21" fill="#1e1e24"/>
<polygon points="599.10,258.01 600.90,259.06 600.90,264.06 599.10,263.01" fill="#1e1e24"/>
<polygon points="592.00,261.53 593.80,262.46 593.80,267.46 592.00,266.53" fill="#1e1e24"/>
<polygon points="596.00,263.60 597.80,264.54 597.80,269.54 596.00,268.60" fill="#1e1e24"/>
<polygon points="599.10,265.21 600.90,266.15 600.90,271.15 599.10,270.21" fill="#1e1e24"/>
<polygon points="592.00,269.18 593.80,270.00 593.80,275.00 592.00,274.18" fill="#1e1e24"/>
<polygon points="596.00,271.00 597.80,271.82 597.80,276.82 596.00,276.00" fill="#1e1e24"/>
<polygon points="599.10,272.41 600.90,273.23 600.90,278.23 599.10,277.41" fill="#1e1e24"/>
<polygon points="592.00,276.83 593.80,277.53 593.80,282.53 592.00,281.83" fill="#1e1e24"/>
<polygon points="596.00,278.40 597.80,279.10 597.80,284.10 596.00,283.40" fill="#1e1e24"/>
<polygon points="599.10,279.62 600.90,280.32 600.90,285.32 599.10,284.62" fill="#1e1e24"/>
<polygon points="592.00,284.47 593.80,285.07 593.80,290.07 592.00,289.47" fill="#1e1e24"/>
<polygon points="596.00,285.79 597.80,286.39 597.80,291.39 596.00,290.79" fill="#1e1e24"/>
<polygon points="599.10,286.82 600.90,287.41 600.90,292.41 599.10,291.82" fill="#1e1e24"/>
<polygon points="592.00,292.12 593.80,292.60 593.80,297.60 592.00,297.12" fill="#1e1e24"/>
<polygon points="596.00,293.19 597.80,293.67 597.80,298.67 596.00,298.19" fill="#1e1e24"/>
<polygon points="599.10,294.02 600.90,294.50 600.90,299.50 599.10,299.02" fill="#1e1e24"/>
<polygon points="592.00,299.77 593.80,300.14 593.80,305.14 592.00,304.77" fill="#1e1e24"/>
<polygon points="596.00,300.59 597.80,300.96 597.80,305.96 596.00,305.59" fill="#1e1e24"/>
<polygon points="599.10,301.22 600.90,301.59 600.90,306.59 599.10,306.22" fill="#1e1e24"/>
<polygon points="592.00,307.42 593.80,307.68 593.80,312.68 592.00,312.42" fill="#1e1e24"/>
<polygon points="596.00,307.99 597.80,308.24 597.80,313.24 596.00,312.99" fill="#1e1e24"/>
<polygon points="599.10,308.42 600.90,308.68 600.90,313.68 599.10,313.42" fill="#1e1e24"/>
<polygon points="592.00,315.07 593.80,315.21 593.80,320.21 592.00,320.07" fill="#1e1e24"/>
<polygon points="596.00,315.38 597.80,315.52 597.80,320.52 596.00,320.38" fill="#1e1e24"/>
<polygon points="599.10,315.62 600.90,315.76 600.90,320.76 599.10,320.62" fill="#1e1e24"/>
<polygon points="616.30,258.30 630.00,248.70 662.40,248.70 662.40,327.00 616.30,327.00" fill="#fff" stroke="#1e1e24" stroke-width="3.4" stroke-linejoin="round"/>
<line x1="630.00" y1="248.70" x2="630.00" y2="327.00" stroke="#1e1e24" stroke-width="3.6" stroke-linecap="round"/>
<line x1="623.20" y1="253.50" x2="623.20" y2="327.00" stroke="#1e1e24" stroke-width="2.6" stroke-linecap="round"/>
<line x1="640.00" y1="248.70" x2="640.00" y2="327.00" stroke="#1e1e24" stroke-width="2.6" stroke-linecap="round"/>
<line x1="651.00" y1="248.70" x2="651.00" y2="327.00" stroke="#1e1e24" stroke-width="2.6" stroke-linecap="round"/>
<line x1="630.00" y1="263.40" x2="662.40" y2="263.40" stroke="#1e1e24" stroke-width="2.6" stroke-linecap="round"/>
<line x1="616.30" y1="267.20" x2="630.00" y2="263.40" stroke="#1e1e24" stroke-width="2.6" stroke-linecap="round"/>
<line x1="630.00" y1="279.00" x2="662.40" y2="279.00" stroke="#1e1e24" stroke-width="2.6" stroke-linecap="round"/>
<line x1="616.30" y1="282.50" x2="630.00" y2="279.00" stroke="#1e1e24" stroke-width="2.6" stroke-linecap="round"/>
<line x1="630.00" y1="294.50" x2="662.40" y2="294.50" stroke="#1e1e24" stroke-width="2.6" stroke-linecap="round"/>
<line x1="616.30" y1="296.80" x2="630.00" y2="294.50" stroke="#1e1e24" stroke-width="2.6" stroke-linecap="round"/>
<line x1="630.00" y1="311.00" x2="662.40" y2="311.00" stroke="#1e1e24" stroke-width="2.6" stroke-linecap="round"/>
<line x1="616.30" y1="312.30" x2="630.00" y2="311.00" stroke="#1e1e24" stroke-width="2.6" stroke-linecap="round"/>
<polygon points="679.90,262.90 707.20,262.90 707.20,327.00 679.90,327.00" fill="#fff" stroke="#1e1e24" stroke-width="3.0" stroke-linejoin="round"/>
<polygon points="707.20,262.90 718.30,271.00 718.30,327.00 707.20,327.00" fill="#fff" stroke="#1e1e24" stroke-width="3.0" stroke-linejoin="round"/>
<rect x="684.30" y="268.30" width="3.00" height="3.40" fill="#1e1e24"/>
<rect x="689.47" y="268.30" width="3.00" height="3.40" fill="#1e1e24"/>
<rect x="694.63" y="268.30" width="3.00" height="3.40" fill="#1e1e24"/>
<rect x="699.80" y="268.30" width="3.00" height="3.40" fill="#1e1e24"/>
<rect x="684.30" y="273.50" width="3.00" height="3.40" fill="#1e1e24"/>
<rect x="689.47" y="273.50" width="3.00" height="3.40" fill="#1e1e24"/>
<rect x="694.63" y="273.50" width="3.00" height="3.40" fill="#1e1e24"/>
<rect x="699.80" y="273.50" width="3.00" height="3.40" fill="#1e1e24"/>
<rect x="684.30" y="278.70" width="3.00" height="3.40" fill="#1e1e24"/>
<rect x="689.47" y="278.70" width="3.00" height="3.40" fill="#1e1e24"/>
<rect x="694.63" y="278.70" width="3.00" height="3.40" fill="#1e1e24"/>
<rect x="699.80" y="278.70" width="3.00" height="3.40" fill="#1e1e24"/>
<rect x="684.30" y="283.90" width="3.00" height="3.40" fill="#1e1e24"/>
<rect x="689.47" y="283.90" width="3.00" height="3.40" fill="#1e1e24"/>
<rect x="694.63" y="283.90" width="3.00" height="3.40" fill="#1e1e24"/>
<rect x="699.80" y="283.90" width="3.00" height="3.40" fill="#1e1e24"/>
<rect x="684.30" y="289.10" width="3.00" height="3.40" fill="#1e1e24"/>
<rect x="689.47" y="289.10" width="3.00" height="3.40" fill="#1e1e24"/>
<rect x="694.63" y="289.10" width="3.00" height="3.40" fill="#1e1e24"/>
<rect x="699.80" y="289.10" width="3.00" height="3.40" fill="#1e1e24"/>
<rect x="684.30" y="294.30" width="3.00" height="3.40" fill="#1e1e24"/>
<rect x="689.47" y="294.30" width="3.00" height="3.40" fill="#1e1e24"/>
<rect x="694.63" y="294.30" width="3.00" height="3.40" fill="#1e1e24"/>
<rect x="699.80" y="294.30" width="3.00" height="3.40" fill="#1e1e24"/>
<rect x="684.30" y="299.50" width="3.00" height="3.40" fill="#1e1e24"/>
<rect x="689.47" y="299.50" width="3.00" height="3.40" fill="#1e1e24"/>
<rect x="694.63" y="299.50" width="3.00" height="3.40" fill="#1e1e24"/>
<rect x="699.80" y="299.50" width="3.00" height="3.40" fill="#1e1e24"/>
<rect x="684.30" y="304.70" width="3.00" height="3.40" fill="#1e1e24"/>
<rect x="689.47" y="304.70" width="3.00" height="3.40" fill="#1e1e24"/>
<rect x="694.63" y="304.70" width="3.00" height="3.40" fill="#1e1e24"/>
<rect x="699.80" y="304.70" width="3.00" height="3.40" fill="#1e1e24"/>
<rect x="684.30" y="309.90" width="3.00" height="3.40" fill="#1e1e24"/>
<rect x="689.47" y="309.90" width="3.00" height="3.40" fill="#1e1e24"/>
<rect x="694.63" y="309.90" width="3.00" height="3.40" fill="#1e1e24"/>
<rect x="699.80" y="309.90" width="3.00" height="3.40" fill="#1e1e24"/>
<rect x="684.30" y="315.10" width="3.00" height="3.40" fill="#1e1e24"/>
<rect x="689.47" y="315.10" width="3.00" height="3.40" fill="#1e1e24"/>
<rect x="694.63" y="315.10" width="3.00" height="3.40" fill="#1e1e24"/>
<rect x="699.80" y="315.10" width="3.00" height="3.40" fill="#1e1e24"/>
<rect x="684.30" y="320.30" width="3.00" height="3.40" fill="#1e1e24"/>
<rect x="689.47" y="320.30" width="3.00" height="3.40" fill="#1e1e24"/>
<rect x="694.63" y="320.30" width="3.00" height="3.40" fill="#1e1e24"/>
<rect x="699.80" y="320.30" width="3.00" height="3.40" fill="#1e1e24"/>
<polygon points="709.85,270.22 711.35,271.19 711.35,274.19 709.85,273.22" fill="#1e1e24"/>
<polygon points="713.65,272.69 715.15,273.66 715.15,276.66 713.65,275.69" fill="#1e1e24"/>
<polygon points="709.85,275.26 711.35,276.15 711.35,279.15 709.85,278.26" fill="#1e1e24"/>
<polygon points="713.65,277.50 715.15,278.39 715.15,281.39 713.65,280.50" fill="#1e1e24"/>
<polygon points="709.85,280.31 711.35,281.10 711.35,284.10 709.85,283.31" fill="#1e1e24"/>
<polygon points="713.65,282.32 715.15,283.12 715.15,286.12 713.65,285.32" fill="#1e1e24"/>
<polygon points="709.85,285.35 711.35,286.06 711.35,289.06 709.85,288.35" fill="#1e1e24"/>
<polygon points="713.65,287.14 715.15,287.85 715.15,290.85 713.65,290.14" fill="#1e1e24"/>
<polygon points="709.85,290.39 711.35,291.01 711.35,294.01 709.85,293.39" fill="#1e1e24"/>
<polygon points="713.65,291.96 715.15,292.58 715.15,295.58 713.65,294.96" fill="#1e1e24"/>
<polygon points="709.85,295.44 711.35,295.96 711.35,298.96 709.85,298.44" fill="#1e1e24"/>
<polygon points="713.65,296.78 715.15,297.31 715.15,300.31 713.65,299.78" fill="#1e1e24"/>
<polygon points="709.85,300.48 711.35,300.92 711.35,303.92 709.85,303.48" fill="#1e1e24"/>
<polygon points="713.65,301.59 715.15,302.04 715.15,305.04 713.65,304.59" fill="#1e1e24"/>
<polygon points="709.85,305.52 711.35,305.87 711.35,308.87 709.85,308.52" fill="#1e1e24"/>
<polygon points="713.65,306.41 715.15,306.76 715.15,309.76 713.65,309.41" fill="#1e1e24"/>
<polygon points="709.85,310.56 711.35,310.83 711.35,313.83 709.85,313.56" fill="#1e1e24"/>
<polygon points="713.65,311.23 715.15,311.49 715.15,314.49 713.65,314.23" fill="#1e1e24"/>
<polygon points="709.85,315.61 711.35,315.78 711.35,318.78 709.85,318.61" fill="#1e1e24"/>
<polygon points="713.65,316.05 715.15,316.22 715.15,319.22 713.65,319.05" fill="#1e1e24"/>
<polygon points="709.85,320.65 711.35,320.74 711.35,323.74 709.85,323.65" fill="#1e1e24"/>
<polygon points="713.65,320.87 715.15,320.95 715.15,323.95 713.65,323.87" fill="#1e1e24"/>
<path d="M25,328 L33,326.8 L70,325.4 L120,323.8 L300,323.2 L450,323.2 L600,324 L665,325.6 L712,326.4 L720,327 L727,328.2 L727.5,329.6 L720,330.2 L600,330.6 L450,330.4 L300,330.2 L120,330.2 L33,330.2 L25,329.1 Z" fill="#1e1e24"/>
<circle cx="47.4" cy="256.6" r="11.45" fill="none" stroke="#1e1e24" stroke-width="2.05"/>
<path transform="translate(47.05,250.8) scale(10.5)" d="M-0.17,1 C0.0,0.8 0.22,0.55 0.28,0.4 M-0.3,0.3 A0.3,0.3 0 1,0 0.3,0.3 A0.3,0.3 0 1,0 -0.3,0.3" fill="none" stroke="#1e1e24" stroke-width="0.1667" stroke-linecap="round" stroke-linejoin="round"/>
<circle cx="96.7" cy="235.3" r="12.05" fill="none" stroke="#1e1e24" stroke-width="2.05"/>
<path transform="translate(95.8,230) scale(11)" d="M-0.34,0.02 L0.34,0.02 L-0.1,1" fill="none" stroke="#1e1e24" stroke-width="0.1591" stroke-linecap="round" stroke-linejoin="round"/>
<circle cx="158" cy="206.8" r="14.55" fill="none" stroke="#1e1e24" stroke-width="2.05"/>
<path transform="translate(157.3,199.2) scale(13)" d="M0.3,0.02 L-0.22,0.02 L-0.28,0.46 C-0.2,0.39 -0.1,0.36 0.02,0.36 C0.22,0.36 0.35,0.5 0.35,0.68 C0.35,0.87 0.2,1 0,1 C-0.17,1 -0.29,0.92 -0.34,0.8" fill="none" stroke="#1e1e24" stroke-width="0.1500" stroke-linecap="round" stroke-linejoin="round"/>
<circle cx="229.4" cy="185.6" r="14.55" fill="none" stroke="#1e1e24" stroke-width="2.05"/>
<path transform="translate(229.2,177.8) scale(14)" d="M-0.3,0.2 C-0.27,0.08 -0.15,0 0,0 C0.17,0 0.28,0.1 0.28,0.24 C0.28,0.38 0.16,0.47 -0.03,0.47 C0.2,0.47 0.33,0.58 0.33,0.73 C0.33,0.89 0.19,1 0,1 C-0.17,1 -0.3,0.91 -0.33,0.78" fill="none" stroke="#1e1e24" stroke-width="0.1393" stroke-linecap="round" stroke-linejoin="round"/>
<circle cx="307.7" cy="150.7" r="14.05" fill="none" stroke="#1e1e24" stroke-width="2.05"/>
<path transform="translate(307.6,144) scale(13.1)" d="M-0.31,0.27 C-0.31,0.1 -0.18,0 0.0,0 C0.19,0 0.32,0.11 0.32,0.28 C0.32,0.41 0.25,0.5 0.16,0.6 L-0.33,0.98 L0.35,0.98" fill="none" stroke="#1e1e24" stroke-width="0.1489" stroke-linecap="round" stroke-linejoin="round"/>
<circle cx="410.4" cy="143" r="14.05" fill="none" stroke="#1e1e24" stroke-width="2.05"/>
<path transform="translate(410.2,136.35) scale(13.5)" d="M-0.19,0.11 L0.03,0 L0.03,1" fill="none" stroke="#1e1e24" stroke-width="0.1481" stroke-linecap="round" stroke-linejoin="round"/>
<circle cx="502.8" cy="157.8" r="14.05" fill="none" stroke="#1e1e24" stroke-width="2.05"/>
<path transform="translate(502.7,151.2) scale(13.1)" d="M-0.31,0.27 C-0.31,0.1 -0.18,0 0.0,0 C0.19,0 0.32,0.11 0.32,0.28 C0.32,0.41 0.25,0.5 0.16,0.6 L-0.33,0.98 L0.35,0.98" fill="none" stroke="#1e1e24" stroke-width="0.1489" stroke-linecap="round" stroke-linejoin="round"/>
<circle cx="575.2" cy="194.1" r="14.55" fill="none" stroke="#1e1e24" stroke-width="2.05"/>
<path transform="translate(575.2,186.4) scale(12.8)" d="M0.17,1 L0.17,0 L-0.37,0.72 L0.4,0.72" fill="none" stroke="#1e1e24" stroke-width="0.1523" stroke-linecap="round" stroke-linejoin="round"/>
<circle cx="641.1" cy="224.9" r="12.05" fill="none" stroke="#1e1e24" stroke-width="2.05"/>
<path transform="translate(640.2,218.4) scale(11.2)" d="M0.17,0 C0.0,0.2 -0.22,0.45 -0.28,0.6 M-0.3,0.7 A0.3,0.3 0 1,0 0.3,0.7 A0.3,0.3 0 1,0 -0.3,0.7" fill="none" stroke="#1e1e24" stroke-width="0.1562" stroke-linecap="round" stroke-linejoin="round"/>
<circle cx="700.3" cy="240.4" r="11.8" fill="none" stroke="#1e1e24" stroke-width="2.05"/>
<path transform="translate(699.35,234.4) scale(10.9)" d="M-0.23,0.24 A0.23,0.23 0 1,0 0.23,0.24 A0.23,0.23 0 1,0 -0.23,0.24 M-0.3,0.71 A0.3,0.28 0 1,0 0.3,0.71 A0.3,0.28 0 1,0 -0.3,0.71" fill="none" stroke="#1e1e24" stroke-width="0.1606" stroke-linecap="round" stroke-linejoin="round"/>
<text x="31.799999999999997" y="235.6" font-size="10.5" textLength="31.4" lengthAdjust="spacingAndGlyphs" fill="#26262b" stroke="#26262b" stroke-width="0.22" font-family="Liberation Sans, sans-serif">Lublin</text>
<text x="70.3" y="214.4" font-size="10.5" textLength="49.0" lengthAdjust="spacingAndGlyphs" fill="#26262b" stroke="#26262b" stroke-width="0.22" font-family="Liberation Sans, sans-serif">Szczecin</text>
<text x="129.4" y="182.4" font-size="11.5" textLength="56.1" lengthAdjust="spacingAndGlyphs" fill="#26262b" stroke="#26262b" stroke-width="0.22" font-family="Liberation Sans, sans-serif">Wrocław</text>
<text x="205.5" y="162" font-size="11.8" textLength="47.4" lengthAdjust="spacingAndGlyphs" fill="#26262b" stroke="#26262b" stroke-width="0.22" font-family="Liberation Sans, sans-serif">Kraków</text>
<text x="283.3" y="127" font-size="12" textLength="49.5" lengthAdjust="spacingAndGlyphs" fill="#26262b" stroke="#26262b" stroke-width="0.22" font-family="Liberation Sans, sans-serif">Gdańsk</text>
<text x="376.4" y="118.9" font-size="12" textLength="67.3" lengthAdjust="spacingAndGlyphs" fill="#26262b" stroke="#26262b" stroke-width="0.22" font-family="Liberation Sans, sans-serif">Bydgoszcz</text>
<text x="473.1" y="133.6" font-size="12" textLength="58.9" lengthAdjust="spacingAndGlyphs" fill="#26262b" stroke="#26262b" stroke-width="0.22" font-family="Liberation Sans, sans-serif">Katowice</text>
<text x="552.1" y="170.8" font-size="12" textLength="46.3" lengthAdjust="spacingAndGlyphs" fill="#26262b" stroke="#26262b" stroke-width="0.22" font-family="Liberation Sans, sans-serif">Poznań</text>
<text x="626.7" y="203.9" font-size="10.8" textLength="26.1" lengthAdjust="spacingAndGlyphs" fill="#26262b" stroke="#26262b" stroke-width="0.22" font-family="Liberation Sans, sans-serif">Łódź</text>
<text x="669.8" y="219.9" font-size="10.5" textLength="56.5" lengthAdjust="spacingAndGlyphs" fill="#26262b" stroke="#26262b" stroke-width="0.22" font-family="Liberation Sans, sans-serif">Warszawa</text>
<path d="M354.7,88.1 L365.7,98.7 L367.8,83.9 L376.3,95.3 L379.2,81.8 L386.4,92 L387.7,78.8 L392,99.6 L364,107.2 Z" fill="none" stroke="#1e1e24" stroke-width="1.9" stroke-linejoin="miter"/>
<text x="165.3" y="44.7" font-size="23" font-weight="bold" textLength="419.4" lengthAdjust="spacingAndGlyphs" fill="#26262b" stroke="#fff" stroke-width="0.15" font-family="Liberation Sans, sans-serif">Ranking Dostępności Mieszkaniowej</text>
<circle cx="47.1" cy="366" r="19.3" fill="#eafd2c"/>
<path d="M36.7,363 L42.9,356.4 L57.8,356.4 L57.8,371.3 L51.6,376.8 L36.7,376.8 Z M39.8,359.8 L39.8,373.8 L54.2,373.8 L54.2,359.8 Z" fill="#1e1e24" fill-rule="evenodd"/>
<text x="72" y="364.2" font-size="14" font-weight="bold" textLength="38.5" lengthAdjust="spacingAndGlyphs" fill="#1e1e24" font-family="Liberation Sans, sans-serif">rynek</text>
<text x="72" y="376.8" font-size="14" font-weight="bold" textLength="68.5" lengthAdjust="spacingAndGlyphs" fill="#1e1e24" font-family="Liberation Sans, sans-serif">pierwotny</text>
<text x="140" y="376.8" font-size="14" textLength="14.5" lengthAdjust="spacingAndGlyphs" fill="#1e1e24" font-family="Liberation Sans, sans-serif">.pl</text>
<text x="485.3" y="368" font-size="10.6" textLength="237.6" lengthAdjust="spacingAndGlyphs" fill="#26262b" stroke="#26262b" stroke-width="0.1" font-family="Liberation Sans, sans-serif"><tspan font-weight="bold">Opracowanie:</tspan> rynekpierwotny.pl, na podstawie</text>
<text x="467.3" y="379.6" font-size="10.6" textLength="255.5" lengthAdjust="spacingAndGlyphs" fill="#26262b" stroke="#26262b" stroke-width="0.1" font-family="Liberation Sans, sans-serif">danych: bigdata.rynekpierwotny.pl, GUS, Unirepo.pl</text>
</svg></body></html>
